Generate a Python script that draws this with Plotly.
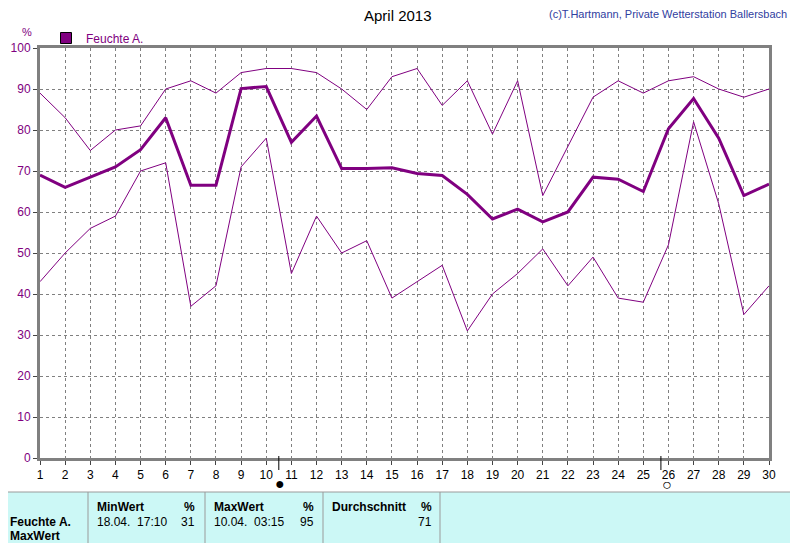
import plotly.graph_objects as go

days = list(range(1, 31))
feuchte_max = [89, 83, 75, 80, 81, 90, 92, 89, 94, 95, 95, 94, 90, 85, 93, 95, 86, 92, 79, 92,
               64, 76, 88, 92, 89, 92, 93, 90, 88, 90]
feuchte_avg = [69, 66, 68.5, 71, 75.2, 83, 66.5, 66.5, 90.1, 90.6, 77, 83.4, 70.6, 70.6, 70.8, 69.4, 68.9, 64.3, 58.3, 60.7,
               57.6, 60, 68.5, 68, 65, 80.3, 87.7, 78, 64, 66.8]
feuchte_min = [43, 50, 56, 59, 70, 72, 37, 42, 71, 78, 45, 59, 50, 53, 39, 43, 47, 31, 40, 45,
               51, 42, 49, 39, 38, 52, 82, 62, 35, 42]

PURPLE = "#800080"

fig = go.Figure()
fig.add_trace(go.Scatter(x=days, y=feuchte_max, mode="lines", line=dict(color=PURPLE, width=1), showlegend=False))
fig.add_trace(go.Scatter(x=days, y=feuchte_min, mode="lines", line=dict(color=PURPLE, width=1), showlegend=False))
fig.add_trace(go.Scatter(x=days, y=feuchte_avg, mode="lines", line=dict(color=PURPLE, width=3), showlegend=False))
# legend entry with square symbol
fig.add_trace(go.Scatter(x=[None], y=[None], mode="markers", name="Feuchte A.",
                         marker=dict(symbol="square", size=11, color=PURPLE, line=dict(color="black", width=1))))

# page pixels -> paper coords
def px(x):
    return (x - 40) / 729.0

def py(y):
    return (458 - y) / 410.0

shapes = [
    dict(type="rect", xref="paper", yref="paper", x0=px(8), x1=px(790), y0=py(543), y1=py(492),
         fillcolor="#ccf8f6", line=dict(width=0), layer="below"),
]
for cx in [88, 205, 323, 440]:
    shapes.append(dict(type="line", xref="paper", yref="paper", x0=px(cx), x1=px(cx), y0=py(543), y1=py(492),
                       line=dict(color="#9a9a9a", width=1)))
shapes.append(dict(type="line", xref="paper", yref="paper", x0=px(8), x1=px(790), y0=py(492), y1=py(492),
                   line=dict(color="#9a9a9a", width=1)))
# moon markers
for mx in [10.5, 25.7]:
    shapes.append(dict(type="line", xref="x", yref="paper", x0=mx, x1=mx, y0=py(470), y1=py(456),
                       line=dict(color="black", width=1)))

def txt(x, y, s, anchor="left", bold=False, size=12, color="black"):
    return dict(xref="paper", yref="paper", x=px(x), y=py(y), text=("<b>%s</b>" % s) if bold else s,
                showarrow=False, xanchor=anchor, yanchor="middle",
                font=dict(size=size, color=color, family="Liberation Sans, Arial"))

ann = [
    txt(398, 16, "April 2013", anchor="center", size=15),
    txt(789, 14, "(c)T.Hartmann, Private Wetterstation Ballersbach", anchor="right", size=11, color="#3040a0"),
    txt(27, 32, "%", anchor="center", size=11, color=PURPLE),
    txt(280, 483, "●", anchor="center", size=16),
    txt(667, 484, "○", anchor="center", size=16),
    txt(95, 507, "MinWert", bold=True),
    txt(197, 507, "%", anchor="right", bold=True),
    txt(95, 522, "18.04.  17:10"),
    txt(197, 522, "31", anchor="right"),
    txt(212, 507, "MaxWert", bold=True),
    txt(316, 507, "%", anchor="right", bold=True),
    txt(212, 522, "10.04.  03:15"),
    txt(316, 522, "95", anchor="right"),
    txt(330, 507, "Durchschnitt", bold=True),
    txt(434, 507, "%", anchor="right", bold=True),
    txt(434, 522, "71", anchor="right"),
    txt(8, 522, "Feuchte A.", bold=True),
    txt(8, 536, "MaxWert", bold=True),
]

fig.update_layout(
    width=794, height=535,
    margin=dict(l=32, r=33, t=40, b=85, autoexpand=False),
    plot_bgcolor="white", paper_bgcolor="white",
    font=dict(family="Liberation Sans, Arial", size=12, color="black"),
    showlegend=True,
    legend=dict(x=px(46), y=py(38), xanchor="left", yanchor="middle", bgcolor="rgba(0,0,0,0)",
                font=dict(size=12, color=PURPLE), itemwidth=30),
    shapes=shapes, annotations=ann,
    xaxis=dict(range=[1, 30], tickmode="array", tickvals=days, ticks="outside", ticklen=4,
               automargin=False,
               showgrid=True, gridcolor="#808080", griddash="3px,3px", gridwidth=1,
               showline=True, linecolor="#808080", linewidth=3, mirror=True, zeroline=False,
               tickfont=dict(size=12, color="black")),
    yaxis=dict(range=[0, 100], dtick=10, ticks="outside", ticklen=4, automargin=False,
               showgrid=True, gridcolor="#808080", griddash="3px,3px", gridwidth=1,
               showline=True, linecolor="#808080", linewidth=3, mirror=True, zeroline=False,
               tickfont=dict(size=12, color=PURPLE)),
)

fig.write_html("out.html")
